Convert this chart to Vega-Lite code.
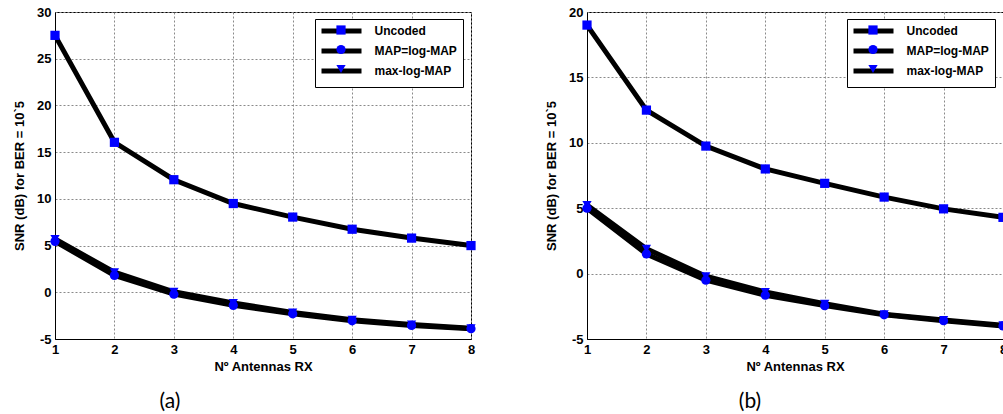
{
  "$schema": "https://vega.github.io/schema/vega-lite/v6.json",
  "padding": {"left": 13, "top": 5, "right": 0, "bottom": 0},
  "background": "white",
  "datasets": {
    "a": [
      {"antennas": 1, "series": "Uncoded", "snr": 27.5},
      {"antennas": 2, "series": "Uncoded", "snr": 16.05},
      {"antennas": 3, "series": "Uncoded", "snr": 12.05},
      {"antennas": 4, "series": "Uncoded", "snr": 9.5},
      {"antennas": 5, "series": "Uncoded", "snr": 8.05},
      {"antennas": 6, "series": "Uncoded", "snr": 6.75},
      {"antennas": 7, "series": "Uncoded", "snr": 5.8},
      {"antennas": 8, "series": "Uncoded", "snr": 5.0},
      {"antennas": 1, "series": "MAP=log-MAP", "snr": 5.45},
      {"antennas": 2, "series": "MAP=log-MAP", "snr": 1.8},
      {"antennas": 3, "series": "MAP=log-MAP", "snr": -0.2},
      {"antennas": 4, "series": "MAP=log-MAP", "snr": -1.4},
      {"antennas": 5, "series": "MAP=log-MAP", "snr": -2.3},
      {"antennas": 6, "series": "MAP=log-MAP", "snr": -3.05},
      {"antennas": 7, "series": "MAP=log-MAP", "snr": -3.55},
      {"antennas": 8, "series": "MAP=log-MAP", "snr": -3.9},
      {"antennas": 1, "series": "max-log-MAP", "snr": 5.7},
      {"antennas": 2, "series": "max-log-MAP", "snr": 2.15},
      {"antennas": 3, "series": "max-log-MAP", "snr": 0.05},
      {"antennas": 4, "series": "max-log-MAP", "snr": -1.15},
      {"antennas": 5, "series": "max-log-MAP", "snr": -2.15},
      {"antennas": 6, "series": "max-log-MAP", "snr": -2.95},
      {"antennas": 7, "series": "max-log-MAP", "snr": -3.45},
      {"antennas": 8, "series": "max-log-MAP", "snr": -3.85}
    ],
    "b": [
      {"antennas": 1, "series": "Uncoded", "snr": 19.0},
      {"antennas": 2, "series": "Uncoded", "snr": 12.5},
      {"antennas": 3, "series": "Uncoded", "snr": 9.75},
      {"antennas": 4, "series": "Uncoded", "snr": 8.0},
      {"antennas": 5, "series": "Uncoded", "snr": 6.9},
      {"antennas": 6, "series": "Uncoded", "snr": 5.85},
      {"antennas": 7, "series": "Uncoded", "snr": 4.95},
      {"antennas": 8, "series": "Uncoded", "snr": 4.3},
      {"antennas": 1, "series": "MAP=log-MAP", "snr": 5.0},
      {"antennas": 2, "series": "MAP=log-MAP", "snr": 1.5},
      {"antennas": 3, "series": "MAP=log-MAP", "snr": -0.5},
      {"antennas": 4, "series": "MAP=log-MAP", "snr": -1.65},
      {"antennas": 5, "series": "MAP=log-MAP", "snr": -2.45},
      {"antennas": 6, "series": "MAP=log-MAP", "snr": -3.15},
      {"antennas": 7, "series": "MAP=log-MAP", "snr": -3.6},
      {"antennas": 8, "series": "MAP=log-MAP", "snr": -4.0},
      {"antennas": 1, "series": "max-log-MAP", "snr": 5.25},
      {"antennas": 2, "series": "max-log-MAP", "snr": 1.9},
      {"antennas": 3, "series": "max-log-MAP", "snr": -0.2},
      {"antennas": 4, "series": "max-log-MAP", "snr": -1.4},
      {"antennas": 5, "series": "max-log-MAP", "snr": -2.3},
      {"antennas": 6, "series": "max-log-MAP", "snr": -3.1},
      {"antennas": 7, "series": "max-log-MAP", "snr": -3.55},
      {"antennas": 8, "series": "max-log-MAP", "snr": -3.95}
    ]
  },
  "config": {
    "font": "Liberation Sans",
    "view": {"stroke": "black", "strokeWidth": 1},
    "axis": {
      "labelFont": "Liberation Sans",
      "labelFontSize": 13,
      "labelFontWeight": "bold",
      "labelColor": "black",
      "labelFlush": false,
      "labelPadding": 4,
      "titleFont": "Liberation Sans",
      "titleFontSize": 13,
      "titleFontWeight": "bold",
      "titleColor": "black",
      "domainColor": "black",
      "ticks": false,
      "grid": true,
      "gridColor": "#8a8a8a",
      "gridDash": [2, 2],
      "gridWidth": 1
    },
    "title": {"font": "Lato", "fontSize": 21, "fontWeight": "normal", "color": "black"}
  },
  "spacing": 63,
  "resolve": {
    "scale": {"y": "independent", "shape": "independent", "stroke": "independent"},
    "legend": {"shape": "independent", "stroke": "independent"}
  },
  "hconcat": [
    {
      "width": 416,
      "height": 327,
      "data": {"name": "a"},
      "title": {"text": "(a)", "orient": "bottom", "anchor": "middle", "dx": -93, "offset": 18},
      "layer": [
        {
          "mark": {"type": "line", "strokeWidth": 5},
          "encoding": {
            "x": {"field": "antennas", "type": "quantitative", "scale": {"domain": [1, 8], "nice": false}, "axis": {"values": [1, 2, 3, 4, 5, 6, 7, 8], "labelExpr": "'' + datum.value", "title": "Nº Antennas RX", "titlePadding": 4}},
            "y": {"field": "snr", "type": "quantitative", "scale": {"domain": [-5, 30], "nice": false}, "axis": {"values": [-5, 0, 5, 10, 15, 20, 25, 30], "labelExpr": "'' + datum.value", "title": "SNR (dB) for BER = 10`5", "titlePadding": 10}},
            "stroke": {"field": "series", "type": "nominal", "scale": {"domain": ["Uncoded", "MAP=log-MAP", "max-log-MAP"], "range": ["black", "black", "black"]},
              "legend": {"title": null, "orient": "none", "legendX": 260, "legendY": 7, "symbolType": "M-8,0H8", "symbolSize": 25, "symbolOffset": 14.5, "symbolStrokeWidth": 5, "symbolStrokeColor": "black", "strokeColor": "black", "fillColor": "white", "padding": 6, "rowPadding": 0, "labelFont": "Liberation Sans", "labelFontSize": 12, "labelFontWeight": "bold", "labelColor": "black", "labelOffset": 27, "zindex": 1}}
          }
        },
        {
          "mark": {"type": "point", "filled": true, "opacity": 1, "size": 85, "color": "#0000ff"},
          "encoding": {
            "x": {"field": "antennas", "type": "quantitative"},
            "y": {"field": "snr", "type": "quantitative"},
            "shape": {"field": "series", "type": "nominal", "sort": ["Uncoded", "MAP=log-MAP", "max-log-MAP"], "scale": {"range": ["square", "circle", "triangle-down"]},
              "legend": {"title": null, "orient": "none", "legendX": 274, "legendY": 6, "padding": 6, "rowPadding": 7.5, "labelExpr": "' '", "labelFontSize": 12, "labelFont": "Liberation Sans", "symbolSize": 85, "symbolFillColor": "#0000ff", "symbolStrokeWidth": 0, "symbolOpacity": 1, "zindex": 2}}
          }
        }
      ]
    },
    {
      "width": 416,
      "height": 327,
      "data": {"name": "b"},
      "title": {"text": "(b)", "orient": "bottom", "anchor": "middle", "dx": -45, "offset": 18},
      "layer": [
        {
          "mark": {"type": "line", "strokeWidth": 5},
          "encoding": {
            "x": {"field": "antennas", "type": "quantitative", "scale": {"domain": [1, 8], "nice": false}, "axis": {"values": [1, 2, 3, 4, 5, 6, 7, 8], "labelExpr": "'' + datum.value", "title": "Nº Antennas RX", "titlePadding": 4}},
            "y": {"field": "snr", "type": "quantitative", "scale": {"domain": [-5, 20], "nice": false}, "axis": {"values": [-5, 0, 5, 10, 15, 20], "labelExpr": "'' + datum.value", "title": "SNR (dB) for BER = 10`5", "titlePadding": 10}},
            "stroke": {"field": "series", "type": "nominal", "scale": {"domain": ["Uncoded", "MAP=log-MAP", "max-log-MAP"], "range": ["black", "black", "black"]},
              "legend": {"title": null, "orient": "none", "legendX": 260, "legendY": 7, "symbolType": "M-8,0H8", "symbolSize": 25, "symbolOffset": 14.5, "symbolStrokeWidth": 5, "symbolStrokeColor": "black", "strokeColor": "black", "fillColor": "white", "padding": 6, "rowPadding": 0, "labelFont": "Liberation Sans", "labelFontSize": 12, "labelFontWeight": "bold", "labelColor": "black", "labelOffset": 27, "zindex": 1}}
          }
        },
        {
          "mark": {"type": "point", "filled": true, "opacity": 1, "size": 85, "color": "#0000ff"},
          "encoding": {
            "x": {"field": "antennas", "type": "quantitative"},
            "y": {"field": "snr", "type": "quantitative"},
            "shape": {"field": "series", "type": "nominal", "sort": ["Uncoded", "MAP=log-MAP", "max-log-MAP"], "scale": {"range": ["square", "circle", "triangle-down"]},
              "legend": {"title": null, "orient": "none", "legendX": 274, "legendY": 6, "padding": 6, "rowPadding": 7.5, "labelExpr": "' '", "labelFontSize": 12, "labelFont": "Liberation Sans", "symbolSize": 85, "symbolFillColor": "#0000ff", "symbolStrokeWidth": 0, "symbolOpacity": 1, "zindex": 2}}
          }
        }
      ]
    }
  ]
}
